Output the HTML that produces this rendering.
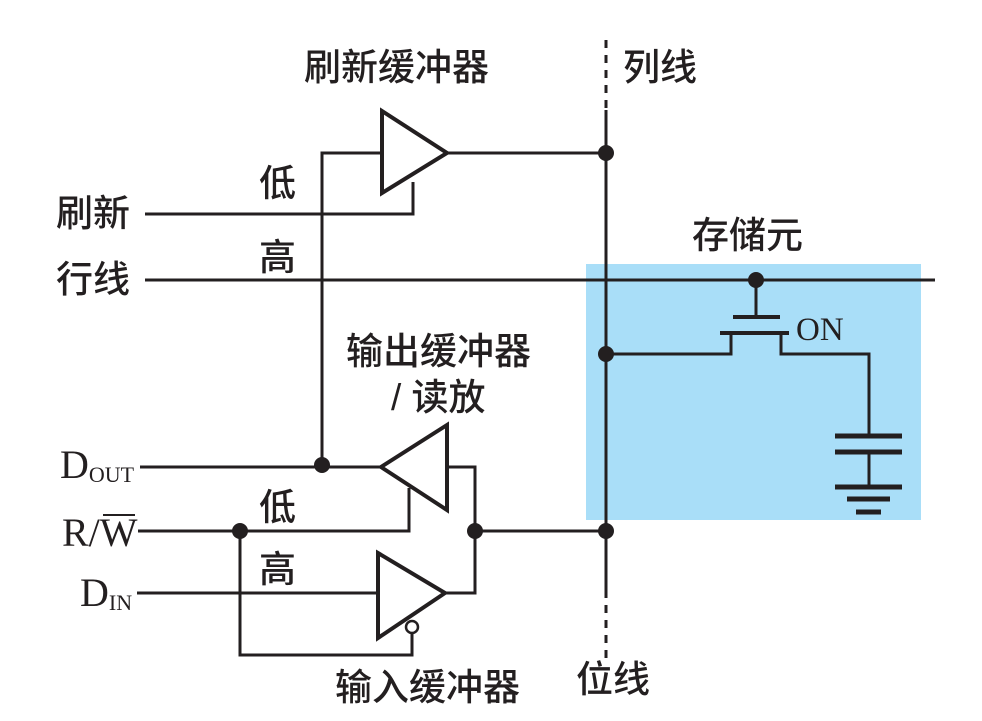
<!DOCTYPE html>
<html><head><meta charset="utf-8"><style>
html,body{margin:0;padding:0;background:#fff;}
svg{display:block;}
.c{font-family:"Liberation Sans","Noto Sans CJK SC",sans-serif;font-size:37px;font-weight:500;fill:#231f20;}
.s{font-family:"Liberation Serif",serif;fill:#231f20;}
</style></head><body>
<svg width="982" height="721" viewBox="0 0 982 721" xmlns="http://www.w3.org/2000/svg">
<rect x="586" y="264" width="335" height="256" fill="#a9def8"/>
<g stroke="#231f20" stroke-width="3" fill="none">
<line x1="606" y1="40" x2="606" y2="110" stroke-dasharray="8,7"/>
<line x1="606" y1="110" x2="606" y2="590"/>
<line x1="606" y1="590" x2="606" y2="660" stroke-dasharray="8,7"/>
<polygon points="382,111 382,193 447,153" stroke-width="4"/>
<line x1="447" y1="153" x2="606" y2="153"/>
<polyline points="382,153 322,153 322,467"/>
<polyline points="145,214 413,214 413,182"/>
<line x1="145" y1="280" x2="935" y2="280"/>
<line x1="756" y1="280" x2="756" y2="317"/>
<line x1="733" y1="317" x2="780" y2="317" stroke-width="4"/>
<line x1="720" y1="333" x2="789" y2="333" stroke-width="4"/>
<polyline points="731,333 731,354 606,354"/>
<polyline points="781,333 781,354 869,354 869,436"/>
<line x1="835" y1="436" x2="902" y2="436" stroke-width="5"/>
<line x1="835" y1="452" x2="902" y2="452" stroke-width="5"/>
<line x1="869" y1="452" x2="869" y2="487"/>
<line x1="835" y1="487" x2="902" y2="487" stroke-width="5"/>
<line x1="847" y1="499" x2="890" y2="499" stroke-width="5"/>
<line x1="856" y1="512" x2="881" y2="512" stroke-width="5"/>
<polygon points="447,425 447,510 381,467" stroke-width="4"/>
<line x1="140" y1="467" x2="381" y2="467"/>
<polyline points="447,467 475,467 475,593 445,593"/>
<polyline points="138,531 409,531 409,488"/>
<line x1="475" y1="531" x2="606" y2="531"/>
<polygon points="378,553 378,638 445,593" stroke-width="4"/>
<line x1="137" y1="593" x2="378" y2="593"/>
<polyline points="240,531 240,655 412,655 412,634"/>
<circle cx="412" cy="627" r="6" stroke-width="2.5" fill="#fff"/>
</g>
<g fill="#231f20">
<circle cx="606" cy="153" r="8"/><circle cx="606" cy="354" r="8"/><circle cx="606" cy="531" r="8"/>
<circle cx="756" cy="280" r="8"/><circle cx="322" cy="465" r="8"/><circle cx="240" cy="531" r="8"/><circle cx="475" cy="531" r="8"/>
</g>
<text class="c" x="304" y="80">刷新缓冲器</text>
<text class="c" x="623" y="80">列线</text>
<text class="c" x="56" y="226">刷新</text>
<text class="c" x="56" y="292">行线</text>
<text class="c" x="259" y="196">低</text>
<text class="c" x="259" y="270">高</text>
<text class="c" x="692" y="248">存储元</text>
<text class="s" x="796" y="340" font-size="33">ON</text>
<text class="c" x="346" y="364">输出缓冲器</text>
<text class="c" x="391" y="410">/ 读放</text>
<text class="c" x="259" y="520">低</text>
<text class="c" x="259" y="582">高</text>
<text class="c" x="335" y="700">输入缓冲器</text>
<text class="c" x="576" y="692">位线</text>
<text class="s" x="60" y="478" font-size="40">D<tspan font-size="22" dy="4">OUT</tspan></text>
<text class="s" x="62" y="546" font-size="40">R/W</text>
<line x1="103" y1="515" x2="135" y2="515" stroke="#231f20" stroke-width="2"/>
<text class="s" x="80" y="606" font-size="40">D<tspan font-size="22" dy="4">IN</tspan></text>
</svg>
</body></html>
